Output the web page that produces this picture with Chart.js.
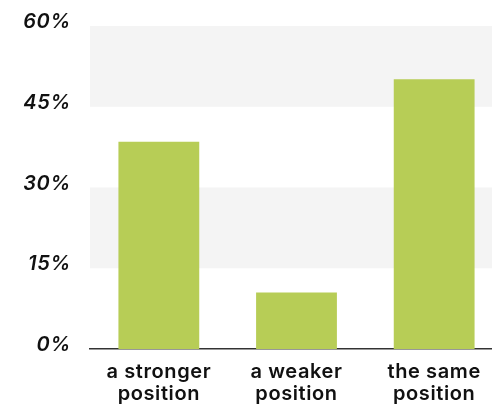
<!DOCTYPE html>
<html>
<head>
<meta charset="utf-8">
<script src="https://cdn.jsdelivr.net/npm/chart.js@4"></script>
<style>
  html, body { margin: 0; padding: 0; background: #fff; overflow: hidden; }
  #wrap { position: relative; width: 506px; height: 413px; margin-top: -5px; }
</style>
</head>
<body>
<div id="wrap"><canvas id="positionChart"></canvas></div>
<script>
const categories = [["a stronger", "position"], ["a weaker", "position"], ["the same", "position"]];
const shares = [38.5, 10.5, 50.1];
const yTicks = [0, 15, 30, 45, 60];

// shaded bands between every other pair of ticks
const bandPlugin = {
  id: "bands",
  beforeDraw(chart) {
    chart.ctx.letterSpacing = "0.6px";
  },
  beforeDatasetsDraw(chart) {
    const { ctx, chartArea, scales } = chart;
    ctx.save();
    ctx.fillStyle = "#f4f4f4";
    for (let i = yTicks.length - 1; i > 0; i -= 2) {
      const top = scales.y.getPixelForValue(yTicks[i]);
      const bottom = scales.y.getPixelForValue(yTicks[i - 1]);
      ctx.fillRect(chartArea.left, top, chartArea.right - chartArea.left, bottom - top);
    }
    ctx.restore();
  }
};

new Chart(document.getElementById("positionChart"), {
  type: "bar",
  data: {
    labels: categories,
    datasets: [{
      data: shares,
      backgroundColor: "#b7cd56",
      barPercentage: 0.587,
      categoryPercentage: 1
    }]
  },
  plugins: [bandPlugin],
  options: {
    responsive: true,
    maintainAspectRatio: false,
    animation: false,
    layout: { padding: { top: 13, right: 3, left: 0, bottom: 0 } },
    plugins: {
      legend: { display: false },
      tooltip: { enabled: false }
    },
    scales: {
      x: {
        z: 1,
        grid: { display: false, drawTicks: false },
        border: { display: true, color: "#333", width: 1.5 },
        ticks: {
          color: "#111",
          padding: 12,
          maxRotation: 0,
          font: { family: "Inter, sans-serif", size: 20, weight: 600, lineHeight: 1.1 }
        },
        afterFit: (s) => { s.height = 59; }
      },
      y: {
        min: 0,
        max: 60,
        afterBuildTicks: (s) => { s.ticks = yTicks.map(v => ({ value: v })); },
        grid: { display: false, drawTicks: false },
        border: { display: false },
        ticks: {
          color: "#111",
          padding: 19,
          labelOffset: -4,
          callback: (v) => `${v}%`,
          font: { family: "Inter, sans-serif", size: 20, weight: 600, style: "italic" }
        },
        afterFit: (s) => { s.width = 90; }
      }
    }
  }
});
</script>
</body>
</html>
